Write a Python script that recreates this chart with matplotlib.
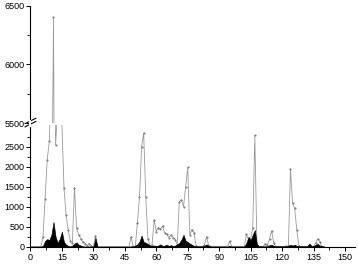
import numpy as np
import matplotlib.pyplot as plt
from matplotlib.lines import Line2D

plt.rcParams['font.family'] = ['Liberation Sans', 'DejaVu Sans']

# x positions (one reading per unit, 0..140)
x = list(range(0, 141))

# grey series (upper line with markers)
grey = [0, 0, 0, 0, 0, 0, 250, 1200, 2180, 2640,            # 0-9
        4300, 6400, 2540, 3500, 3400, 3100, 1470, 800, 420, 150,   # 10-19
        100, 1470, 470, 300, 200, 120, 80, 30, 80, 30,      # 20-29
        0, 270, 0, 0, 0, 0, 0, 0, 0, 0,                     # 30-39
        0, 0, 0, 0, 0, 0, 0, 0, 250, 0,                     # 40-49
        0, 600, 1240, 2500, 2850, 1250, 200, 30, 50, 670,   # 50-59
        380, 480, 440, 520, 350, 310, 230, 300, 230, 180,   # 60-69
        50, 1130, 1180, 1000, 1500, 1990, 300, 430, 350, 20,  # 70-79
        0, 0, 0, 50, 250, 30, 0, 0, 0, 0,                   # 80-89
        0, 0, 0, 0, 0, 140, 0, 0, 0, 0,                     # 90-99
        0, 0, 0, 310, 170, 200, 460, 2790, 40, 0,           # 100-109
        0, 0, 80, 40, 200, 400, 90, 0, 0, 0,                # 110-119
        0, 0, 20, 0, 1950, 1090, 960, 420, 30, 0,           # 120-129
        0, 0, 0, 0, 0, 0, 100, 200, 130, 0,                 # 130-139
        0]                                                  # 140

# black filled series
black = [0, 0, 0, 0, 0, 0, 20, 150, 190, 170,
         300, 620, 250, 100, 200, 380, 120, 50, 20, 10,
         30, 80, 110, 50, 30, 10, 5, 5, 5, 5,
         0, 220, 0, 0, 0, 0, 0, 0, 0, 0,
         0, 0, 0, 0, 0, 0, 0, 0, 10, 10,
         30, 60, 130, 280, 120, 100, 70, 30, 20, 30,
         20, 30, 60, 20, 30, 50, 20, 40, 20, 30,
         60, 100, 180, 300, 150, 120, 80, 50, 20, 10,
         10, 10, 10, 20, 60, 20, 5, 5, 5, 5,
         5, 5, 5, 5, 5, 20, 5, 5, 5, 5,
         5, 5, 5, 100, 250, 150, 300, 420, 60, 10,
         10, 10, 10, 10, 40, 50, 20, 10, 10, 10,
         10, 10, 10, 30, 50, 30, 50, 20, 10, 10,
         10, 10, 10, 80, 20, 20, 50, 70, 30, 10,
         0]

xticks = [0, 15, 30, 45, 60, 75, 90, 105, 120, 135, 150]
low_ticks = [0, 500, 1000, 1500, 2000, 2500]
up_ticks = [5500, 6000, 6500]

fig = plt.figure(figsize=(3.58, 2.67), dpi=100)
ax_up = fig.add_axes([0.085, 0.538, 0.908, 0.441])
ax_lo = fig.add_axes([0.085, 0.076, 0.908, 0.456])

for ax in (ax_up, ax_lo):
    ax.plot(x, grey, color='#9a9a9a', lw=0.6, marker='.', ms=1.0,
            mec='#707070', mfc='#707070', zorder=2)
    ax.fill_between(x, 0, black, color='black', lw=0.4, zorder=3)
    ax.set_xlim(0, 155)
    ax.spines['top'].set_visible(False)
    ax.spines['right'].set_visible(False)
    ax.spines['left'].set_linewidth(0.8)
    ax.tick_params(labelsize=6.5, width=0.7, length=3, pad=1.5)
    ax.tick_params(which='minor', width=0.6, length=2)

ax_up.set_ylim(5500, 6500)
ax_up.set_yticks(up_ticks)
ax_up.set_yticks([5750, 6250], minor=True)
ax_up.spines['bottom'].set_visible(False)
ax_up.set_xticks([])

ax_lo.set_ylim(0, 3050)
ax_lo.set_yticks(low_ticks)
ax_lo.set_yticks(np.arange(250, 3000, 500), minor=True)
ax_lo.set_xticks(xticks)
ax_lo.set_xticks(np.arange(7.5, 155, 15), minor=True)
ax_lo.spines['bottom'].set_linewidth(0.8)

# break marks on the y axis
for dy in (0.0, 0.012):
    fig.add_artist(Line2D([0.070, 0.100], [0.525 + dy, 0.545 + dy],
                          color='black', lw=0.8))
fig.add_artist(Line2D([0.085, 0.085], [0.529, 0.545], color='white', lw=1.5))

fig.savefig('out.png', dpi=100)
